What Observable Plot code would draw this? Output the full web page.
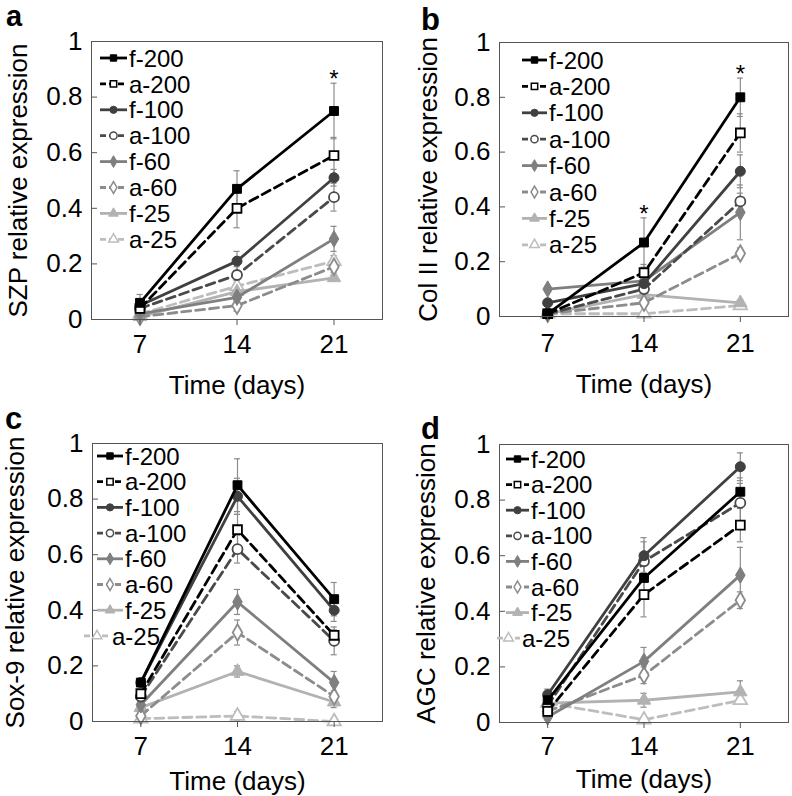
<!DOCTYPE html>
<html><head><meta charset="utf-8">
<script src="https://cdn.jsdelivr.net/npm/d3@7"></script>
<script src="https://cdn.jsdelivr.net/npm/@observablehq/plot@0.6"></script>
<style>
body{margin:0;background:#fff;font-family:Arial,"Liberation Sans",sans-serif}
#root{position:relative;width:792px;height:796px;overflow:hidden;background:#fff}
.panel{position:absolute}
#overlay{position:absolute;left:0;top:0;pointer-events:none}
</style></head><body><div id="root"></div>
<script>
// ---------- data ----------
const days = [7, 14, 21];
const xTicks = [7, 14, 21];
const yTicks = [0, 0.2, 0.4, 0.6, 0.8, 1];
const seriesNames = ["f-200", "a-200", "f-100", "a-100", "f-60", "a-60", "f-25", "a-25"];
const seriesColors = ["#000000", "#000000", "#404040", "#4a4a4a", "#7f7f7f", "#8c8c8c", "#b2b2b2", "#bdbdbd"];
const seriesSymbols = ["square", "square", "circle", "circle", "diamond", "diamond", "triangle", "triangle"];
const seriesDashed = [false, true, false, true, false, true, false, true];

// a: SZP
const szpMeans = [[0.06,0.47,0.75],[0.04,0.40,0.59],[0.05,0.21,0.51],[0.04,0.16,0.44],[0.02,0.08,0.29],[0.01,0.05,0.19],[0.01,0.10,0.15],[0.02,0.12,0.21]];
const szpErrors = [[0.03,0.065,0.10],[0.02,0.07,0.065],[0.02,0.035,0.03],[0.01,0.03,0.05],[0.01,0.02,0.045],[0.01,0.02,0.02],[0.01,0.015,0.01],[0.01,0.02,0.02]];
const szpStars = [21];
// b: Col II
const col2Means = [[0.01,0.27,0.80],[0.01,0.16,0.67],[0.05,0.12,0.53],[0.01,0.10,0.42],[0.10,0.13,0.38],[0.01,0.05,0.23],[0.01,0.08,0.05],[0.01,0.01,0.04]];
const col2Errors = [[0.01,0.09,0.07],[0.01,0.03,0.07],[0.01,0.02,0.06],[0.01,0.02,0.03],[0.01,0.02,0.10],[0.01,0.01,0.02],[0.01,0.01,0.01],[0.005,0.005,0.01]];
const col2Stars = [14, 21];
// c: Sox-9
const sox9Means = [[0.14,0.85,0.44],[0.10,0.69,0.31],[0.14,0.81,0.40],[0.09,0.62,0.29],[0.06,0.43,0.14],[0.02,0.32,0.09],[0.05,0.18,0.07],[0.01,0.02,0.00]];
const sox9Errors = [[0.01,0.095,0.06],[0.01,0.055,0.02],[0.01,0.065,0.04],[0.01,0.05,0.05],[0.01,0.045,0.04],[0.01,0.045,0.02],[0.01,0.02,0.02],[0.005,0.015,0.01]];
const sox9Stars = [];
// d: AGC
const agcMeans = [[0.08,0.52,0.83],[0.04,0.46,0.71],[0.10,0.60,0.92],[0.06,0.58,0.79],[0.02,0.22,0.53],[0.04,0.17,0.44],[0.07,0.08,0.11],[0.07,0.01,0.08]];
const agcErrors = [[0.01,0.05,0.05],[0.01,0.08,0.06],[0.02,0.065,0.05],[0.01,0.07,0.07],[0.01,0.05,0.10],[0.01,0.03,0.03],[0.01,0.025,0.04],[0.01,0.005,0.01]];
const agcStars = [];

// ---------- layout ----------
const FONT = "Arial, 'Liberation Sans', sans-serif";
const panels = [
  {letter:"a", lx:6, ly:26, lsize:29, left:0, top:0, yLabel:"SZP relative expression", means:szpMeans, errors:szpErrors, stars:szpStars,
   m:{l:91,r:14,t:41,b:79}, xPad:9, xLab:74, yLab:83,
   leg:{x0:100, x1:127, tx:129, y0:58, step:25.9, lastShift:0}},
  {letter:"b", lx:421, ly:30, lsize:31, left:396, top:0, yLabel:"Col II relative expression", means:col2Means, errors:col2Errors, stars:col2Stars,
   m:{l:103,r:4,t:42,b:82}, xPad:11, xLab:76, yLab:81,
   leg:{x0:126, x1:151, tx:153, y0:60, step:26.4, lastShift:0}},
  {letter:"c", lx:5, ly:429, lsize:31, left:0, top:398, yLabel:"Sox-9 relative expression", means:sox9Means, errors:sox9Errors, stars:sox9Stars,
   m:{l:92,r:14,t:45,b:75}, xPad:9, xLab:68, yLab:87,
   leg:{x0:97, x1:123, tx:125, y0:58, step:25.7, lastShift:-13}},
  {letter:"d", lx:421, ly:439, lsize:31, left:396, top:398, yLabel:"AGC relative expression", means:agcMeans, errors:agcErrors, stars:agcStars,
   m:{l:103,r:4,t:46,b:74}, xPad:8, xLab:65, yLab:83,
   leg:{x0:110, x1:133, tx:135, y0:61, step:25.6, lastShift:-9}}
];
const W = 396, H = 398;
const cap = 0.22;

const root = document.getElementById("root");

function makePanel(p) {
  const rows = [];
  seriesNames.forEach((name, i) => days.forEach((d, j) => rows.push({series:name, idx:i, day:d, value:p.means[i][j], err:p.errors[i][j]})));
  const starRows = p.stars.map(d => ({day:d, top: d3.max(rows.filter(r => r.day === d), r => r.value + r.err)}));
  const marks = [
    Plot.ruleX(rows, {x:"day", y1: d => Math.max(0, d.value - d.err), y2: d => d.value + d.err, stroke:"#8c8c8c", strokeWidth:1.2}),
    Plot.ruleY(rows, {y: d => d.value + d.err, x1: d => d.day - cap, x2: d => d.day + cap, stroke:"#8c8c8c", strokeWidth:1.2}),
    Plot.ruleY(rows.filter(d => d.value - d.err > 0), {y: d => d.value - d.err, x1: d => d.day - cap, x2: d => d.day + cap, stroke:"#8c8c8c", strokeWidth:1.2})
  ];
  for (let i = seriesNames.length - 1; i >= 0; i--) {
    const data = rows.filter(r => r.idx === i);
    marks.push(Plot.line(data, {x:"day", y:"value", stroke:seriesColors[i], strokeWidth:2.8, strokeDasharray: seriesDashed[i] ? "9,5" : null}));
    marks.push(Plot.dot(data, {x:"day", y:"value", symbol:() => seriesSymbols[i], r:5, fill: seriesDashed[i] ? "#fff" : seriesColors[i], stroke:seriesColors[i], strokeWidth: seriesDashed[i] ? 1.8 : 1}));
  }
  marks.push(
    Plot.text(starRows, {x:"day", y:"top", text: () => "*", lineAnchor:"top", dy:-13, fontSize:24, fill:"#000"}),
    Plot.frame({stroke:"#555", strokeWidth:1}),
    Plot.axisX({ticks:xTicks, tickSize:6, tickPadding:p.xPad, fontSize:26, tickFormat: d => String(d), stroke:"#555",
      label:"Time (days)", labelAnchor:"center", labelArrow:"none", labelOffset:p.xLab}),
    Plot.axisY({ticks:yTicks, tickSize:0, tickPadding:9, fontSize:26, tickFormat: d => String(d),
      label:p.yLabel, labelAnchor:"center", labelArrow:"none", labelOffset:p.yLab}),
    Plot.axisY({ticks:yTicks, tickSize:6, dx:6, fill:"none", label:null, stroke:"#555"})
  );
  const svg = Plot.plot({
    width:W, height:H,
    marginLeft:p.m.l, marginRight:p.m.r, marginTop:p.m.t, marginBottom:p.m.b,
    x:{domain:[3.5, 24.5]},
    y:{domain:[0, 1]},
    symbol:{type:"identity"},
    style:{fontFamily:FONT, background:"transparent", color:"#000", overflow:"visible"},
    marks
  });
  const div = document.createElement("div");
  div.className = "panel";
  div.style.left = p.left + "px";
  div.style.top = p.top + "px";
  div.appendChild(svg);
  root.appendChild(div);
}
panels.forEach(makePanel);

// overlay: panel letters + legends
const symType = {square:d3.symbolSquare, circle:d3.symbolCircle, diamond:d3.symbolDiamond, triangle:d3.symbolTriangle};
const ov = d3.select(root).append("svg").attr("id","overlay").attr("width",792).attr("height",796)
  .style("font-family", FONT);
panels.forEach(p => {
  ov.append("text").attr("x", p.lx).attr("y", p.ly).attr("font-size", p.lsize).attr("font-weight", "bold").text(p.letter);
  const g = ov.append("g").attr("transform", `translate(${p.left},${p.top})`);
  seriesNames.forEach((name, i) => {
    const shift = i === seriesNames.length - 1 ? p.leg.lastShift : 0;
    const y = p.leg.y0 + i * p.leg.step;
    const x0 = p.leg.x0 + shift, x1 = p.leg.x1 + shift;
    g.append("line").attr("x1", x0).attr("x2", x1).attr("y1", y).attr("y2", y)
      .attr("stroke", seriesColors[i]).attr("stroke-width", 2.8)
      .attr("stroke-dasharray", seriesDashed[i] ? "6,3" : null);
    g.append("path").attr("d", d3.symbol(symType[seriesSymbols[i]], 3.6 * 3.6 * Math.PI)())
      .attr("transform", `translate(${(x0 + x1) / 2},${y})`)
      .attr("fill", seriesDashed[i] ? "#fff" : seriesColors[i])
      .attr("stroke", seriesColors[i]).attr("stroke-width", seriesDashed[i] ? 1.5 : 1);
    g.append("text").attr("x", p.leg.tx + shift).attr("y", y).attr("dy", "0.36em")
      .attr("font-size", 24).attr("fill", "#000").text(name);
  });
});
</script></body></html>
